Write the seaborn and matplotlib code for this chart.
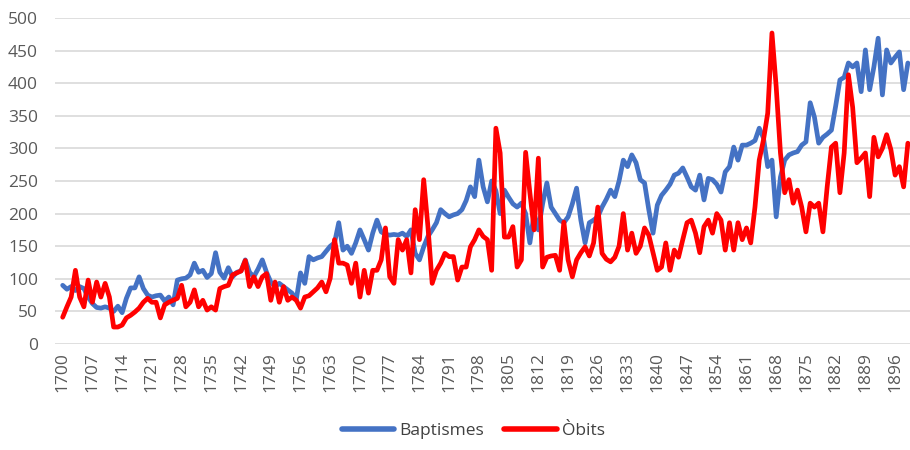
import numpy as np
import pandas as pd
import matplotlib
matplotlib.use('Agg')
import matplotlib.pyplot as plt
import seaborn as sns

# years 1700 - 1899
years = list(range(1700, 1900))

baptismes = [
    90, 84, 88, 82, 88, 85, 72, 62, 56, 55,      # 1700
    57, 55, 50, 58, 48, 70, 86, 86, 103, 85,     # 1710
    75, 72, 74, 75, 66, 72, 60, 98, 100, 101,    # 1720
    106, 124, 110, 113, 102, 108, 140, 110, 101, 117,  # 1730
    103, 110, 112, 129, 110, 103, 115, 129, 110, 95,   # 1740
    88, 93, 88, 83, 78, 68, 109, 93, 134, 129,   # 1750
    132, 134, 142, 150, 155, 186, 144, 150, 139, 155,  # 1760
    175, 160, 144, 170, 190, 172, 168, 167, 168, 167,  # 1770
    170, 165, 175, 139, 129, 149, 165, 175, 186, 206,  # 1780
    200, 195, 198, 200, 206, 220, 241, 226, 282, 241,  # 1790
    218, 250, 235, 200, 236, 225, 215, 210, 216, 200,  # 1800
    155, 200, 175, 215, 247, 210, 200, 190, 186, 195,  # 1810
    215, 239, 190, 155, 186, 190, 195, 210, 222, 236,  # 1820
    226, 250, 282, 272, 290, 278, 252, 247, 206, 170,  # 1830
    213, 228, 236, 245, 259, 262, 270, 256, 241, 236,  # 1840
    259, 221, 254, 252, 245, 233, 264, 272, 302, 282,  # 1850
    305, 305, 308, 312, 331, 316, 272, 282, 195, 256,  # 1860
    282, 290, 293, 295, 305, 310, 370, 348, 308, 317,  # 1870
    322, 328, 365, 405, 409, 431, 425, 431, 387, 451,  # 1880
    390, 425, 469, 382, 451, 431, 440, 448, 390, 431,  # 1890
]

obits = [
    41, 57, 72, 113, 72, 57, 98, 64, 95, 72,     # 1700
    93, 72, 26, 26, 29, 40, 44, 49, 55, 64,      # 1710
    70, 64, 64, 40, 60, 64, 67, 70, 90, 57,      # 1720
    64, 83, 57, 67, 52, 57, 52, 85, 88, 90,      # 1730
    106, 109, 112, 128, 88, 103, 88, 103, 108, 67,     # 1740
    95, 64, 88, 67, 72, 67, 55, 72, 74, 80,      # 1750
    86, 95, 80, 101, 160, 124, 124, 121, 93, 124,      # 1760
    72, 113, 78, 113, 113, 129, 178, 103, 93, 160,     # 1770
    144, 160, 109, 206, 160, 252, 180, 93, 113, 124,   # 1780
    139, 134, 134, 98, 118, 118, 149, 160, 175, 165,   # 1790
    160, 113, 331, 293, 164, 164, 180, 118, 129, 294,  # 1800
    232, 175, 285, 118, 133, 135, 136, 113, 187, 129,  # 1810
    103, 129, 140, 149, 135, 155, 210, 139, 130, 126,  # 1820
    133, 150, 200, 144, 170, 139, 150, 178, 167, 140,  # 1830
    113, 118, 155, 113, 144, 133, 160, 186, 190, 170,  # 1840
    140, 180, 190, 170, 200, 190, 144, 186, 144, 186,  # 1850
    160, 178, 155, 210, 282, 313, 354, 477, 394, 293,  # 1860
    232, 252, 216, 236, 210, 172, 216, 210, 216, 172,  # 1870
    241, 302, 308, 232, 293, 413, 363, 278, 285, 293,  # 1880
    226, 317, 287, 300, 321, 298, 259, 272, 241, 308,  # 1890
]

tick_years = [1700, 1707, 1714, 1721, 1728, 1735, 1742, 1749, 1756, 1763,
              1770, 1777, 1784, 1791, 1798, 1805, 1812, 1819, 1826, 1833,
              1840, 1847, 1854, 1861, 1868, 1875, 1882, 1889, 1896]
y_ticks = [0, 50, 100, 150, 200, 250, 300, 350, 400, 450, 500]

series_names = ['Baptismes', 'Òbits']
colors = {'Baptismes': '#4472C4', 'Òbits': '#FF0000'}

df = pd.DataFrame({
    'any': years * 2,
    'valor': baptismes + obits,
    'serie': [series_names[0]] * len(years) + [series_names[1]] * len(years),
})

sns.set_style('white')
plt.rcParams['font.family'] = ['Open Sans', 'DejaVu Sans']

fig = plt.figure(figsize=(9.1, 4.5), dpi=100)
ax = fig.add_axes([0.060, 0.2356, 0.940, 0.7244])

sns.lineplot(data=df, x='any', y='valor', hue='serie', palette=colors,
             linewidth=3.4, ax=ax, legend=False,
             solid_joinstyle='round', solid_capstyle='round')

ax.set_xlim(1698.1, 1899.5)
ax.set_ylim(0, 500)
ax.set_xticks(tick_years)
ax.set_xticklabels([str(t) for t in tick_years], rotation=90)
ax.set_yticks(y_ticks)
ax.set_xlabel('')
ax.set_ylabel('')
ax.grid(axis='y', color='#d9d9d9', linewidth=1.2)
ax.set_axisbelow(True)
for s in ax.spines.values():
    s.set_visible(False)
ax.tick_params(axis='both', length=0, labelsize=12.5, colors='#595959')
ax.tick_params(axis='y', pad=12)
ax.tick_params(axis='x', pad=6)

handles = [plt.Line2D([0], [0], color=colors[n], linewidth=4) for n in series_names]
fig.legend(handles, series_names, loc='lower center', bbox_to_anchor=(0.52, -0.01),
           ncol=2, frameon=False, fontsize=12.5, handlelength=3.0,
           handletextpad=0.3, columnspacing=1.2, labelcolor='#404040')

fig.savefig('out.png', dpi=100)
